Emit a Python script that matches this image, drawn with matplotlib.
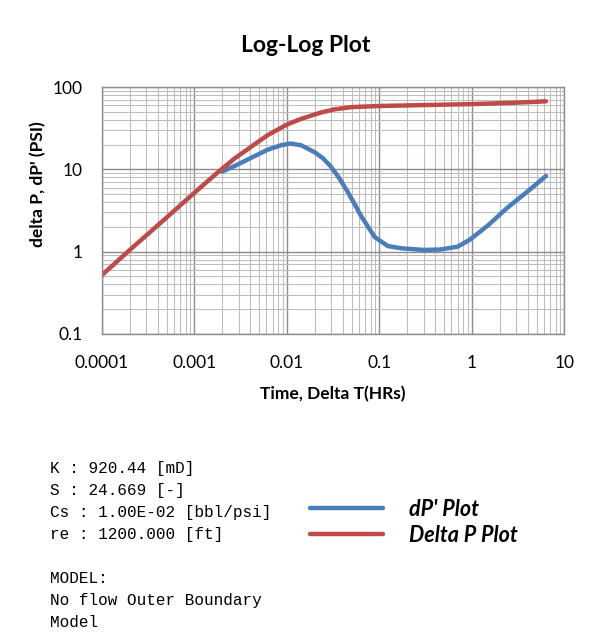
import matplotlib
matplotlib.use("Agg")
import matplotlib.pyplot as plt
from matplotlib.ticker import LogLocator, FuncFormatter, NullFormatter

# Delta P curve (time in hours, pressure in psi)
t_dp = [1e-4, 2e-4, 5e-4, 1e-3, 0.00177, 0.00268, 0.0041, 0.00617, 0.01, 0.0142,
        0.0233, 0.0326, 0.05, 0.1, 0.3, 1, 3, 6.3]
dp = [0.52, 1.05, 2.6, 5.2, 9.1, 13.4, 18.8, 26, 35, 41,
      49, 53.5, 57, 58.8, 60.3, 62, 64.5, 67]

# derivative curve dP'
t_der = [0.002, 0.00268, 0.0041, 0.00617, 0.0086, 0.0109, 0.0142, 0.0198, 0.0245,
         0.0294, 0.0362, 0.045, 0.0537, 0.064, 0.089, 0.123, 0.17, 0.3, 0.45,
         0.7, 0.95, 1.5, 2.4, 4, 6.3]
der = [9.4, 10.9, 13.8, 17.3, 19.6, 20.6, 19.6, 16.2, 13.6,
       11, 8, 5.4, 3.8, 2.65, 1.5, 1.17, 1.1, 1.05, 1.06,
       1.15, 1.4, 2.1, 3.4, 5.4, 8.3]

info_lines = ["K : 920.44 [mD]", "S : 24.669 [-]", "Cs : 1.00E-02 [bbl/psi]",
              "re : 1200.000 [ft]", "", "MODEL:", "No flow Outer Boundary", "Model"]

plt.rcParams['font.family'] = ['Lato', 'DejaVu Sans']

fig = plt.figure(figsize=(6.02, 6.44), dpi=100)
ax = fig.add_axes([0.1694, 0.4814, 0.7683, 0.3835])

line_der, = ax.plot(t_der, der, color="#4A7EBB", linewidth=3.2, solid_capstyle="round",
                    solid_joinstyle="round", label="dP' Plot")
line_dp, = ax.plot(t_dp, dp, color="#BE4B48", linewidth=3.2, solid_capstyle="round",
                   solid_joinstyle="round", label="Delta P Plot")

ax.set_xscale("log")
ax.set_yscale("log")
ax.set_xlim(1e-4, 10)
ax.set_ylim(0.1, 100)

for axis in (ax.xaxis, ax.yaxis):
    axis.set_major_locator(LogLocator(base=10))
    axis.set_minor_locator(LogLocator(base=10, subs=range(2, 10)))
    axis.set_major_formatter(FuncFormatter(lambda v, p: "{:g}".format(v)))
    axis.set_minor_formatter(NullFormatter())

ax.grid(True, which="major", color="#8C8C8C", linewidth=1.0)
ax.grid(True, which="minor", color="#BDBDBD", linewidth=0.75)
ax.set_axisbelow(True)
ax.tick_params(which="both", length=0, labelsize=12.5, colors="black")
ax.tick_params(axis="x", pad=15)
ax.tick_params(axis="y", pad=14)
for s in ax.spines.values():
    s.set_color("#8C8C8C")
    s.set_linewidth(1.0)

# title is centred on the whole figure, not on the axes
fig.text(0.508, 1 - 45 / 644, "Log-Log Plot", fontsize=16.5, fontweight="bold",
         ha="center", va="center")
ax.set_xlabel("Time, Delta T(HRs)", fontsize=12.5, fontweight="bold", labelpad=11)
ax.set_ylabel("delta P, dP' (PSI)", fontsize=12.5, fontweight="bold")
ax.yaxis.set_label_coords(-0.12, 0.605)

# parameter block
fig.text(0.083, 1 - 461 / 644, "\n".join(info_lines), family="Liberation Mono",
         fontsize=11.5, va="top", ha="left", linespacing=1.58)

fig.legend([line_der, line_dp], ["dP' Plot", "Delta P Plot"], loc="upper left",
           bbox_to_anchor=(0.515, 1 - 499 / 644), frameon=False, borderpad=0,
           borderaxespad=0, handlelength=3.4, handletextpad=1.2, labelspacing=0.22,
           prop={"family": "Lato", "weight": "bold", "style": "italic", "size": 15.5})

fig.savefig("out.png", dpi=100)
